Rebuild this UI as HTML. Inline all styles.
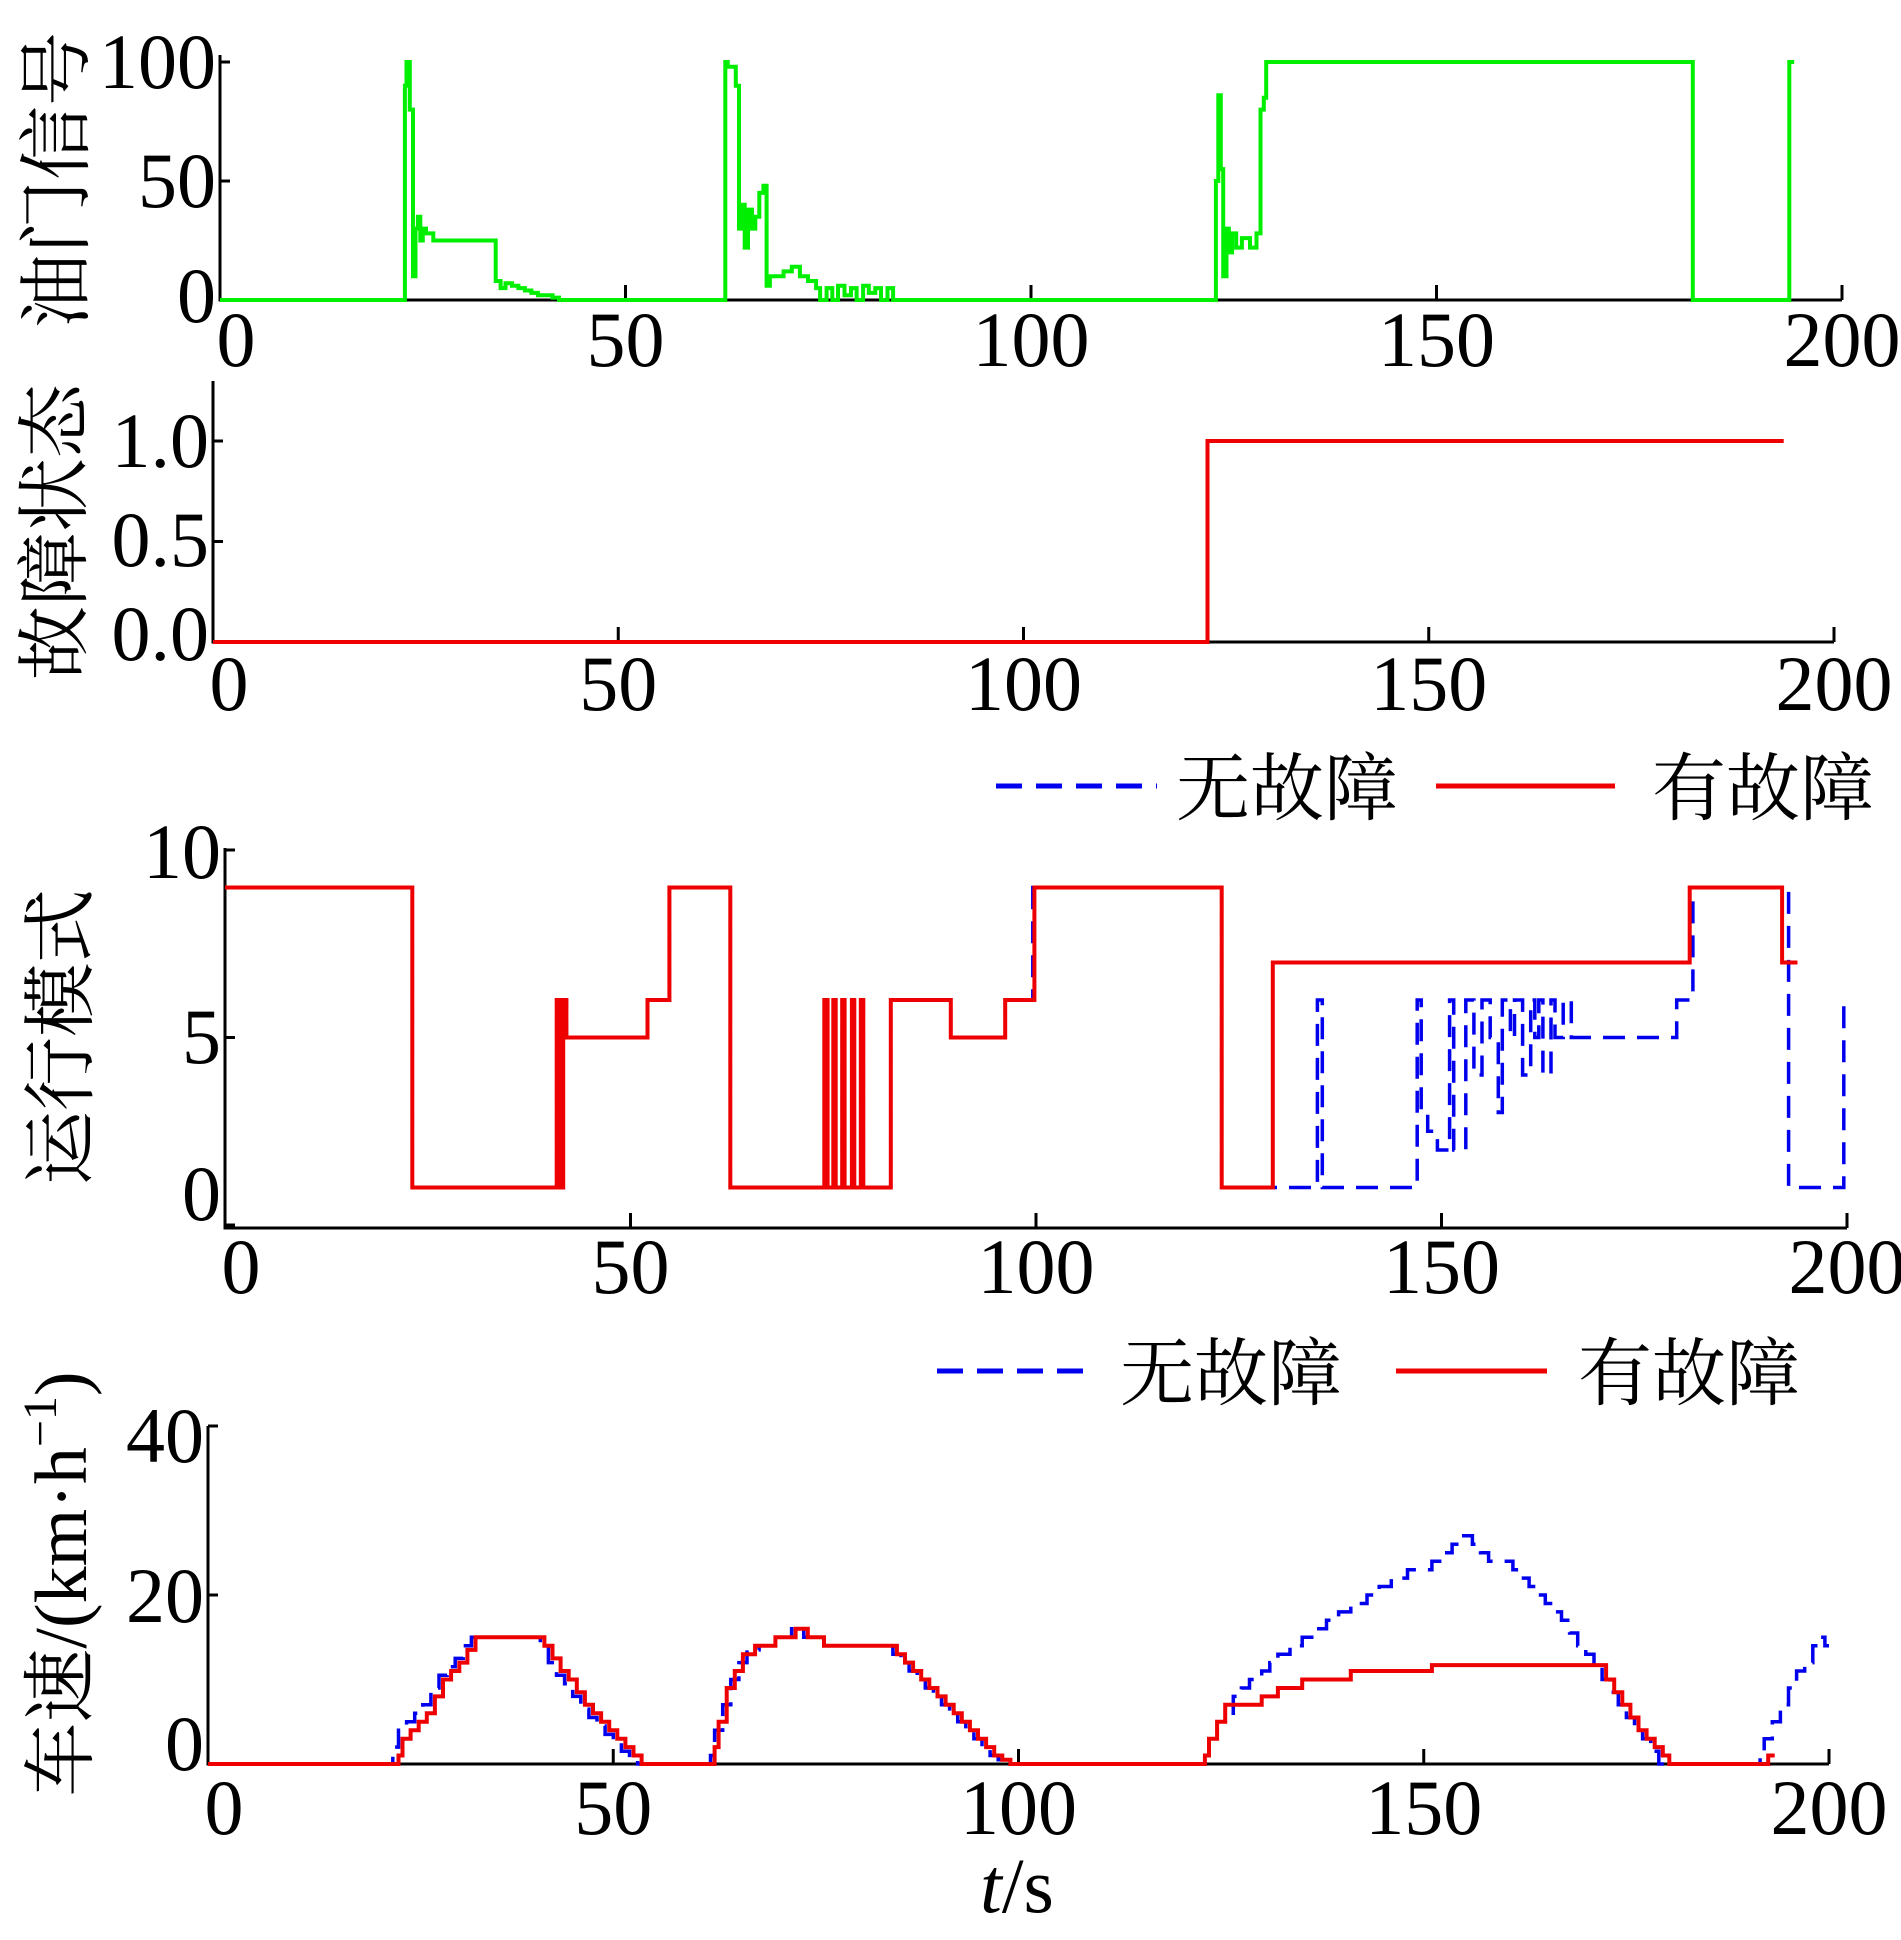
<!DOCTYPE html>
<html><head><meta charset="utf-8"><style>
html,body{margin:0;padding:0;background:#fff}
svg{display:block}
text{font-family:"Liberation Serif","Noto Serif CJK SC","Noto Sans CJK SC",serif;fill:#000}
</style></head><body>
<svg id="fig" width="1901" height="1940" viewBox="0 0 1901 1940" xmlns="http://www.w3.org/2000/svg"></svg>
<script>
// ---- data ----
const xTicks = [0, 50, 100, 150, 200];
const throttleTicks = [0, 50, 100];
const faultTicks = ["0.0", "0.5", "1.0"];
const modeTicks = [0, 5, 10];
const speedTicks = [0, 20, 40];
const throttleT = [0,22.8,23.0,23.4,23.8,24.1,24.4,24.7,25.0,25.4,25.8,26.3,27,33.5,34,34.6,35.2,36,36.8,37.6,38.4,39.2,40,41,41.8,42.3,62.3,62.6,63.6,64,64.3,64.7,65.1,65.6,66,66.5,67,67.4,67.8,68.5,69.5,70.5,71.5,72.5,73.5,74,74.8,75.5,76.2,77,77.8,78.5,79.3,80,80.8,81.5,82.3,83,122.8,123.1,123.4,123.7,124.1,124.4,124.8,125.3,126,127,127.8,128.3,128.7,129,181.6,193.5,194.1];
const throttleV = [0,90,100,80,10,30,35,25,30,28,28,25,25,25,8,5,7,6,5,4,3,2,2,1,0,0,100,98,90,30,40,22,38,30,35,45,48,6,10,10,12,14,10,8,5,0,5,0,6,2,5,0,6,3,5,0,5,0,50,86,55,10,30,20,28,22,26,22,28,80,85,100,0,100,100];
const faultT = [0,122.7,193.8];
const faultV = [0,1,1];
const modeFaultT = [0,23.1,40.9,41.3,41.7,42.1,52.1,54.8,62.3,73.9,74.3,75.0,75.3,76.1,76.4,77.3,77.6,78.4,78.7,82.1,89.5,96.2,99.8,122.9,129.2,180.6,192,193.9];
const modeFaultV = [9,1,6,1,6,5,6,9,1,6,1,6,1,6,1,6,1,6,1,6,5,6,9,1,7,9,7,7];
const modeNormalT = [0,23.1,40.9,41.3,41.7,42.1,52.1,54.8,62.3,73.9,74.3,75.0,75.3,76.1,76.4,77.3,77.6,78.4,78.7,82.1,89.5,96.2,99.6,122.9,130.5,134.7,135.3,147,147.5,148.3,149.5,151,151.5,153,154,155,156,157,157.5,158.5,159,160,161,161.5,162,162.5,163.5,164,165,166,179,181,192.8,199.6,200];
const modeNormalV = [9,1,6,1,6,5,6,9,1,6,1,6,1,6,1,6,1,6,1,6,5,6,9,1,1,6,1,6,3,2.5,2,6,2,6,4,6,5,3,6,5,6,4,6,5,6,4,6,5,6,5,6,9,1,6,6];
const speedFaultT = [0,23.5,24,25,26,27,28,29,30,31,32,33,41.5,42.5,43.5,44.5,45.5,46.5,47.5,48.5,49.5,50.5,51.5,52.5,53.5,62.5,63,64,65,66,67.5,70,72.5,74,76,85,86,87,88,89,90,91,92,93,94,95,96,97,98,99,123,123.5,124.5,125.5,130,132,135,141,151,172.5,173.5,174.5,175.5,176.5,177.5,178.5,179.5,180.3,192.5,193.3];
const speedFaultV = [0,1,3,4,5,6,8,10,11,12,13.5,15,14,12.5,11,10,8.5,7,6,5,4,3,2,1,0,2,5,9,11,13,14,15,16,15,14,13,12,11,10,9,8,7,6,5,4,3,2,1,0.5,0,1,3,5,7,8,9,10,11,11.7,10,8.5,7,5.5,4,3,2,1,0,1,1];
const speedNormalT = [0,22.8,23.5,24.5,25.5,26.5,27.5,28.5,29.5,30.5,31.5,32.5,41,42,43,44,45,46,47,48,49,50,51,52,53,54.5,62,62.5,63.5,64.5,65.5,66.5,68,70,72,73.5,75.5,84.5,85.5,86.5,87.5,88.5,89.5,90.5,91.5,92.5,93.5,94.5,95.5,96.5,97.5,98.5,122.8,123,123.5,124.5,125.5,126.5,127.5,128.5,130,131,132,133.5,135,136.5,138,139.5,141,143,144.5,146,148,151,152.5,153.5,154.5,156,157,158,161,162,163,164,165,166,167,168,169,170,171,172,173,174,175,176,177,178,179,191.5,192,193,194,195,196,197,198,199,199.5,200];
const speedNormalV = [0,2,4,5,6,7,9,10.5,11.5,12.5,14,15,14,12,10.5,9.5,8,6.5,5.5,4.5,3.5,2.5,1.5,0.5,0,0,1,4,7,10,12,13.5,14,15,16,15,14,13,12,11,10,9,8,7,6,5,4,3,2,1,0.5,0,0,1,3,5,6,8,9,10,11,12,13,14,15,16,17,18,19,20,21,22,23,24,25,26,27,26,25,24,23,22,21,20,19,18,17,15.5,14,13,11.5,10,8.5,7,5.5,4,3,1.5,0,1,3,5,7,9,11,12,14,15,14,14];

const NS = "http://www.w3.org/2000/svg";
const svg = document.getElementById('fig');
function el(tag, attrs, parent) {
  const e = document.createElementNS(NS, tag);
  for (const k in attrs) e.setAttribute(k, attrs[k]);
  (parent || svg).appendChild(e);
  return e;
}
function mkScale(d0, d1, r0, r1) { return v => r0 + (v - d0) * (r1 - r0) / (d1 - d0); }
function stepPath(T, V, sx, sy) {
  let d = 'M' + sx(T[0]).toFixed(1) + ' ' + sy(V[0]).toFixed(1);
  for (let i = 1; i < T.length; i++) {
    d += ' H' + sx(T[i]).toFixed(1) + ' V' + sy(V[i]).toFixed(1);
  }
  return d;
}
const FS = 78, CFS = 74;

function panel(name, cfg) {
  const g = el('g', {});
  
  
  const sx = mkScale(0, 200, cfg.x0, cfg.x1);
  const sy = mkScale(cfg.yd0, cfg.yd1, cfg.y0, cfg.y1);
  const ax = el('path', {d: `M${cfg.x0} ${cfg.top} V${cfg.axisY} H${cfg.x1}`, fill: 'none', stroke: '#000', 'stroke-width': 3}, g);
  
  
  xTicks.forEach(t => {
    const x = sx(t);
    if (t > 0) el('line', {x1: x, x2: x, y1: cfg.axisY, y2: cfg.axisY - 15, stroke: '#000', 'stroke-width': 3}, g);
    const lb = el('text', {x: x + (t === 0 ? 16 : 0), y: cfg.xLabY, 'font-size': FS, 'text-anchor': 'middle'}, g);
    lb.textContent = t;
    
    
  });
  cfg.yTicks.forEach((lab, i) => {
    const v = cfg.yTickVals[i];
    const y = sy(v);
    el('line', {x1: cfg.x0, x2: cfg.x0 + 10, y1: y, y2: y, stroke: '#000', 'stroke-width': 3}, g);
    const lb = el('text', {x: cfg.x0 - 4, y: cfg.yLabY[i], 'font-size': FS, 'text-anchor': 'end'}, g);
    lb.textContent = lab;
    
    
  });
  const tt = el('text', {x: 0, y: 0, 'font-size': CFS, 'text-anchor': 'middle', transform: `translate(${cfg.titleX},${cfg.titleY}) rotate(-90)`}, g);
  tt.innerHTML = cfg.title;
  
  
  return {g, sx, sy};
}

let p = panel('throttle-panel', {x0: 220, x1: 1842, top: 55, axisY: 300, yd0: 0, yd1: 100, y0: 300, y1: 62,
  xLabY: 366, yTicks: ['0', '50', '100'], yTickVals: throttleTicks, yLabY: [322, 207, 88], titleX: 82, titleY: 180, title: '油门信号'});
let s = el('path', {d: stepPath(throttleT, throttleV, p.sx, p.sy), fill: 'none', stroke: '#00ee00', 'stroke-width': 4}, p.g);



p = panel('fault-panel', {x0: 213, x1: 1834, top: 381, axisY: 642, yd0: 0, yd1: 1, y0: 642, y1: 441,
  xLabY: 710, yTicks: faultTicks, yTickVals: [0, 0.5, 1], yLabY: [660, 566, 467], titleX: 80, titleY: 532, title: '故障状态'});
s = el('path', {d: stepPath(faultT, faultV, p.sx, p.sy), fill: 'none', stroke: '#ee0000', 'stroke-width': 4}, p.g);



p = panel('mode-panel', {x0: 225, x1: 1847, top: 848, axisY: 1228, yd0: 0, yd1: 10, y0: 1225, y1: 850,
  xLabY: 1293, yTicks: ['0', '5', '10'], yTickVals: modeTicks, yLabY: [1220, 1063, 878], titleX: 86, titleY: 1037, title: '运行模式'});
s = el('path', {d: stepPath(modeNormalT, modeNormalV, p.sx, p.sy), fill: 'none', stroke: '#0000ee', 'stroke-width': 3.5, 'stroke-dasharray': '22 12'}, p.g);


s = el('path', {d: stepPath(modeFaultT, modeFaultV, p.sx, p.sy), fill: 'none', stroke: '#ee0000', 'stroke-width': 4}, p.g);



p = panel('speed-panel', {x0: 208, x1: 1829, top: 1426, axisY: 1764, yd0: 0, yd1: 40, y0: 1764, y1: 1426,
  xLabY: 1834, yTicks: ['0', '20', '40'], yTickVals: speedTicks, yLabY: [1770, 1622, 1462], titleX: 86, titleY: 1584, title: '车速/(km·h<tspan font-size="48" dy="-30">−1</tspan><tspan dy="30">)</tspan>'});
s = el('path', {d: stepPath(speedNormalT, speedNormalV, p.sx, p.sy), fill: 'none', stroke: '#0000ee', 'stroke-width': 3.5, 'stroke-dasharray': '22 12'}, p.g);


s = el('path', {d: stepPath(speedFaultT, speedFaultV, p.sx, p.sy), fill: 'none', stroke: '#ee0000', 'stroke-width': 4}, p.g);



const xt = el('text', {x: 1017, y: 1912, 'font-size': FS, 'text-anchor': 'middle'});
xt.innerHTML = '<tspan font-style="italic">t</tspan>/s';



function legend(name, y, d0, d1, t0, r0, r1, t1) {
  const g = el('g', {});
  
  
  const a = el('line', {x1: d0, x2: d1, y1: y, y2: y, stroke: '#0000ee', 'stroke-width': 5, 'stroke-dasharray': '26 14'}, g);
  
  
  const ta = el('text', {x: t0, y: y + 28, 'font-size': CFS}, g);
  ta.textContent = '无故障';
  
  
  const b = el('line', {x1: r0, x2: r1, y1: y, y2: y, stroke: '#ee0000', 'stroke-width': 5}, g);
  
  
  const tb = el('text', {x: t1, y: y + 28, 'font-size': CFS}, g);
  tb.textContent = '有故障';
  
  
}
legend('mode-legend', 786, 996, 1157, 1176, 1436, 1615, 1652);
legend('speed-legend', 1371, 937, 1095, 1120, 1396, 1547, 1578);
</script>
</body></html>
